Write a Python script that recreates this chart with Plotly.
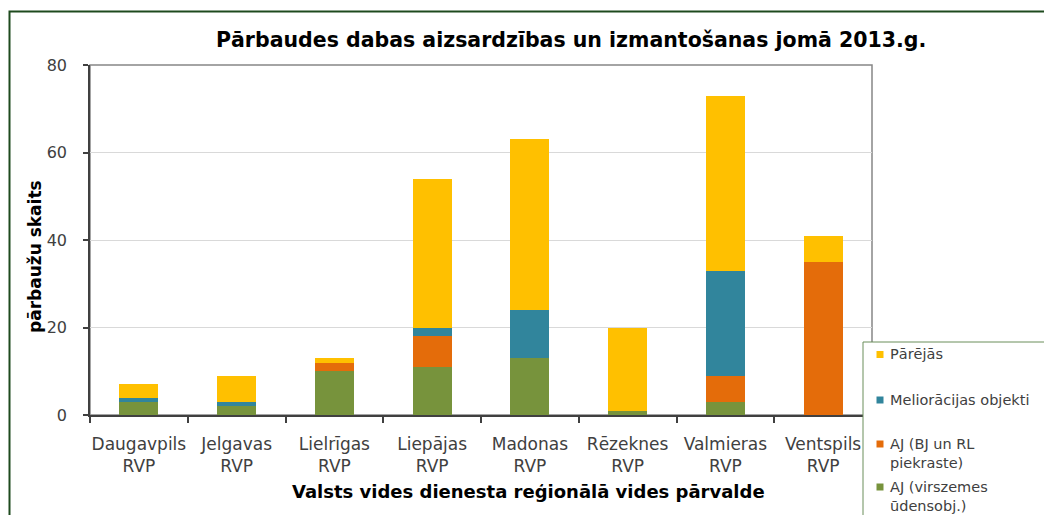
import plotly.graph_objects as go

# ---- data ----
categories = ["Daugavpils<br>RVP", "Jelgavas<br>RVP", "Lielrīgas<br>RVP", "Liepājas<br>RVP",
              "Madonas<br>RVP", "Rēzeknes<br>RVP", "Valmieras<br>RVP", "Ventspils<br>RVP"]
aj_virszemes = [3, 2, 10, 11, 13, 1, 3, 0]
aj_bj_rl = [0, 0, 2, 7, 0, 0, 6, 35]
melioracijas = [1, 1, 0, 2, 11, 0, 24, 0]
parejas = [3, 6, 1, 34, 39, 19, 40, 6]

series_names = ["AJ (virszemes<br>ūdensobj.)", "AJ (BJ un RL<br>piekraste)",
                "Meliorācijas objekti", "Pārējās"]
series_values = [aj_virszemes, aj_bj_rl, melioracijas, parejas]
series_colors = ["#77933C", "#E46C0A", "#31859C", "#FFC000"]

title_text = "Pārbaudes dabas aizsardzības un izmantošanas jomā 2013.g."
x_title = "Valsts vides dienesta reģionālā vides pārvalde"
y_title = "pārbaužu skaits"
y_ticks = [0, 20, 40, 60, 80]

# ---- layout constants (pixels) ----
W, H = 1044, 515
ML, MR, MT, MB = 90, 172, 65, 100
PW, PH = W - ML - MR, H - MT - MB


def xp(px):
    return (px - ML) / PW


def yp(py):
    return (H - MB - py) / PH


FONT = "DejaVu Sans"

fig = go.Figure()
for name, vals, col in zip(series_names, series_values, series_colors):
    fig.add_trace(go.Bar(x=categories, y=vals, name=name,
                         marker=dict(color=col, line=dict(width=0)),
                         showlegend=False))

fig.update_layout(
    width=W, height=H,
    margin=dict(l=ML, r=MR, t=MT, b=MB, autoexpand=False),
    barmode="stack", bargap=0.6,
    plot_bgcolor="white", paper_bgcolor="white",
    font=dict(family=FONT, size=16, color="#404040"),
    xaxis=dict(type="category", tickson="boundaries", ticks="outside", ticklen=6,
               tickcolor="#404040", tickwidth=1.5, showline=True, linecolor="#404040",
               linewidth=1.5, showgrid=False, ticklabelstandoff=13, tickangle=0,
               tickfont=dict(family=FONT, size=17, color="#404040")),
    yaxis=dict(range=[0, 80], tickvals=y_ticks, ticks="outside", ticklen=5,
               tickcolor="#404040", tickwidth=1.5, showline=True, linecolor="#404040",
               linewidth=1.5, showgrid=True, gridcolor="#D9D9D9", gridwidth=1,
               zeroline=False, ticklabelstandoff=13,
               tickfont=dict(family=FONT, size=16, color="#404040")),
)

shapes = []
# plot area top/right border
shapes.append(dict(type="rect", xref="paper", yref="paper", x0=0, x1=1, y0=0, y1=1,
                   line=dict(color="#868686", width=1.5), layer="below"))
# outer chart frame (dark green)
shapes.append(dict(type="rect", xref="paper", yref="paper",
                   x0=xp(9.5), x1=xp(1070), y0=yp(540), y1=yp(11.5),
                   line=dict(color="#1E4A1E", width=2), fillcolor="rgba(0,0,0,0)"))
# legend box
shapes.append(dict(type="rect", xref="paper", yref="paper",
                   x0=xp(863), x1=xp(1070), y0=yp(540), y1=yp(342),
                   line=dict(color="#6B8E5A", width=1), fillcolor="white"))

annotations = [
    dict(text=title_text, xref="paper", yref="paper", x=xp(571), y=yp(40),
         xanchor="center", yanchor="middle", showarrow=False,
         font=dict(family=FONT, size=20.5, color="black", weight="bold")),
    dict(text=x_title, xref="paper", yref="paper", x=xp(528.5), y=yp(491),
         xanchor="center", yanchor="middle", showarrow=False,
         font=dict(family=FONT, size=18, color="black", weight="bold")),
    dict(text=y_title, xref="paper", yref="paper", x=xp(35), y=yp(257),
         xanchor="center", yanchor="middle", showarrow=False, textangle=-90,
         font=dict(family=FONT, size=17, color="black", weight="bold")),
]

# manual legend (top to bottom: reversed series order)
legend_marker_y = [354.5, 400, 444, 487]
legend_text_y = [354, 400, 453.5, 496.5]
for i, idx in enumerate(reversed(range(len(series_names)))):
    my = legend_marker_y[i]
    shapes.append(dict(type="rect", xref="paper", yref="paper",
                       x0=xp(876.5), x1=xp(883.5), y0=yp(my + 3.5), y1=yp(my - 3.5),
                       line=dict(width=0), fillcolor=series_colors[idx]))
    annotations.append(dict(text=series_names[idx], xref="paper", yref="paper",
                            x=xp(888), y=yp(legend_text_y[i]), xanchor="left",
                            yanchor="middle", align="left", showarrow=False,
                            font=dict(family=FONT, size=14.5, color="#404040")))

fig.update_layout(shapes=shapes, annotations=annotations)
fig.write_html("out.html", config={"displayModeBar": False},
               post_script="document.body.style.margin='0';document.body.style.overflow='hidden';")
